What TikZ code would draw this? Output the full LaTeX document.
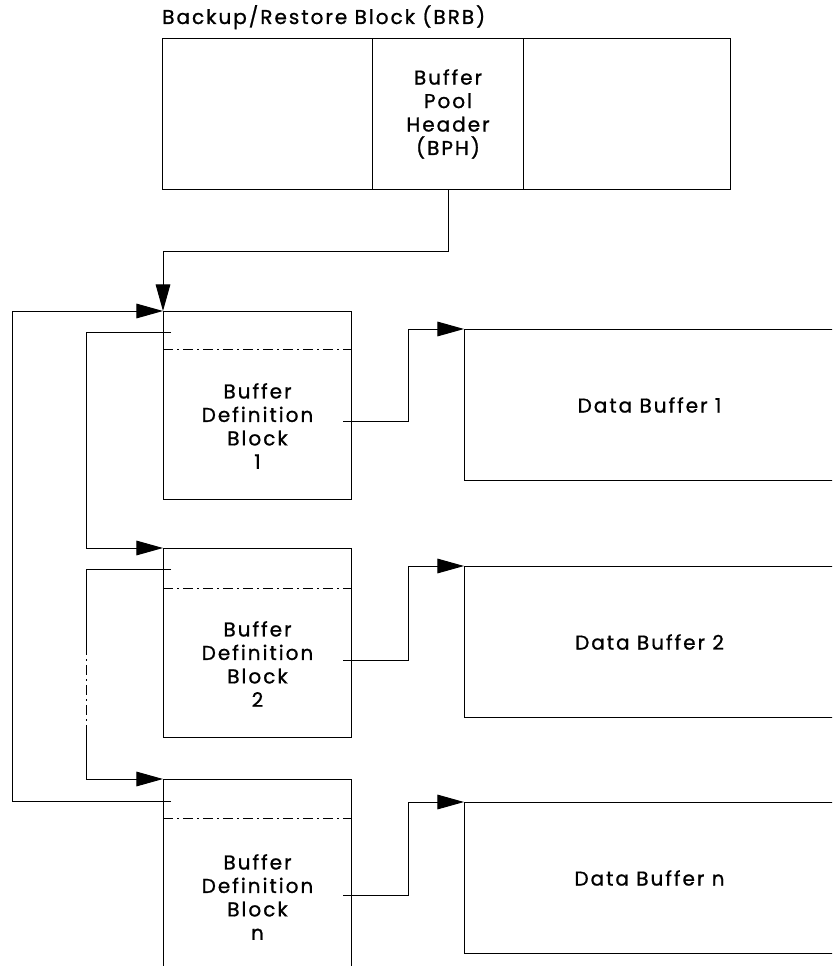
\documentclass[tikz,border=0pt]{standalone}
\usepackage{fontspec}
\setmainfont{Poppins}[LetterSpace=10, FakeBold=1]
\usepackage{tikz}
\usetikzlibrary{arrows.meta}

\begin{document}
\begin{tikzpicture}[
x=0.75pt, y=-0.75pt,
font=\fontsize{15pt}{17.6pt}\selectfont,
box/.style={
	rectangle,
	draw,
	line width=0.75pt,
	inner sep=0pt,
	align=center,
	anchor=north west
},
bdb/.style={
	box,
	minimum width=141pt,
	minimum height=141pt
},
databuf/.style={
	box,
	minimum width=277.5pt,
	minimum height=113.25pt
},
caption/.style={align=center, inner sep=0pt},
link/.style={line width=0.75pt},
arrow/.style={-{Triangle[length=20pt,width=11pt]}, line width=0.75pt},
divider/.style={line width=0.75pt, dash pattern=on 7.5pt off 3pt on 1.5pt off 3pt}
]

\clip (0,0) rectangle (832,966);

\node[anchor=base west, inner sep=0pt] (title) at (162,24) {Backup/Restore Block (BRB)};

\node[box, minimum width=426pt, minimum height=113.25pt] (brb) at (162,38) {};
\node[box, minimum width=113.25pt, minimum height=113.25pt] (bph) at (372,38) {
	Buffer\\
	Pool\\
	Header\\
	(BPH)
};

\node[bdb] (bdb1) at (163,311) {};
\node[bdb, minimum height=141.75pt] (bdb2) at (163,548) {};
\node[bdb, minimum height=147.75pt] (bdbn) at (163,779) {};

\node[caption] (bdb1txt) at (257.5,426) {Buffer\\Definition\\Block\\1};
\node[caption] (bdb2txt) at (257.5,664) {Buffer\\Definition\\Block\\2};
\node[caption] (bdbntxt) at (257.5,897) {Buffer\\Definition\\Block\\n};

\node[databuf] (buf1) at (464,329) {Data Buffer 1};
\node[databuf] (buf2) at (464,566) {Data Buffer 2};
\node[databuf] (bufn) at (464,802) {Data Buffer n};

\draw[divider] ([yshift=-28.5pt]bdb1.north west) -- ([yshift=-28.5pt]bdb1.north east);
\draw[divider] ([yshift=-30pt]bdb2.north west) -- ([yshift=-30pt]bdb2.north east);
\draw[divider] ([yshift=-29.25pt]bdbn.north west) -- ([yshift=-29.25pt]bdbn.north east);

\coordinate (bdb1next) at (171,332);
\coordinate (bdb2next) at (171,569);
\coordinate (bdbnnext) at (171,801);
\coordinate (gaptop) at (86,645);
\coordinate (gapbot) at (86,728);

\coordinate (bdb1out) at (343,421);
\coordinate (bdb2out) at (343,660);
\coordinate (bdbnout) at (343,895);

\draw[arrow] (bph.south) -- ++(0,61) -| (bdb1.north west);

\draw[arrow] (bdb1next) -- ++(-85,0) |- (bdb2.north west);
\draw[link] (bdb2next) -| (gaptop);
\draw[divider] (gaptop) -- (gapbot);
\draw[arrow] (gapbot) |- (bdbn.north west);
\draw[arrow] (bdbnnext) -- ++(-159,0) |- (bdb1.north west);

\draw[arrow] (bdb1out) -- ++(65,0) |- (buf1.north west);
\draw[arrow] (bdb2out) -- ++(65,0) |- (buf2.north west);
\draw[arrow] (bdbnout) -- ++(65,0) |- (bufn.north west);

\end{tikzpicture}
\end{document}
